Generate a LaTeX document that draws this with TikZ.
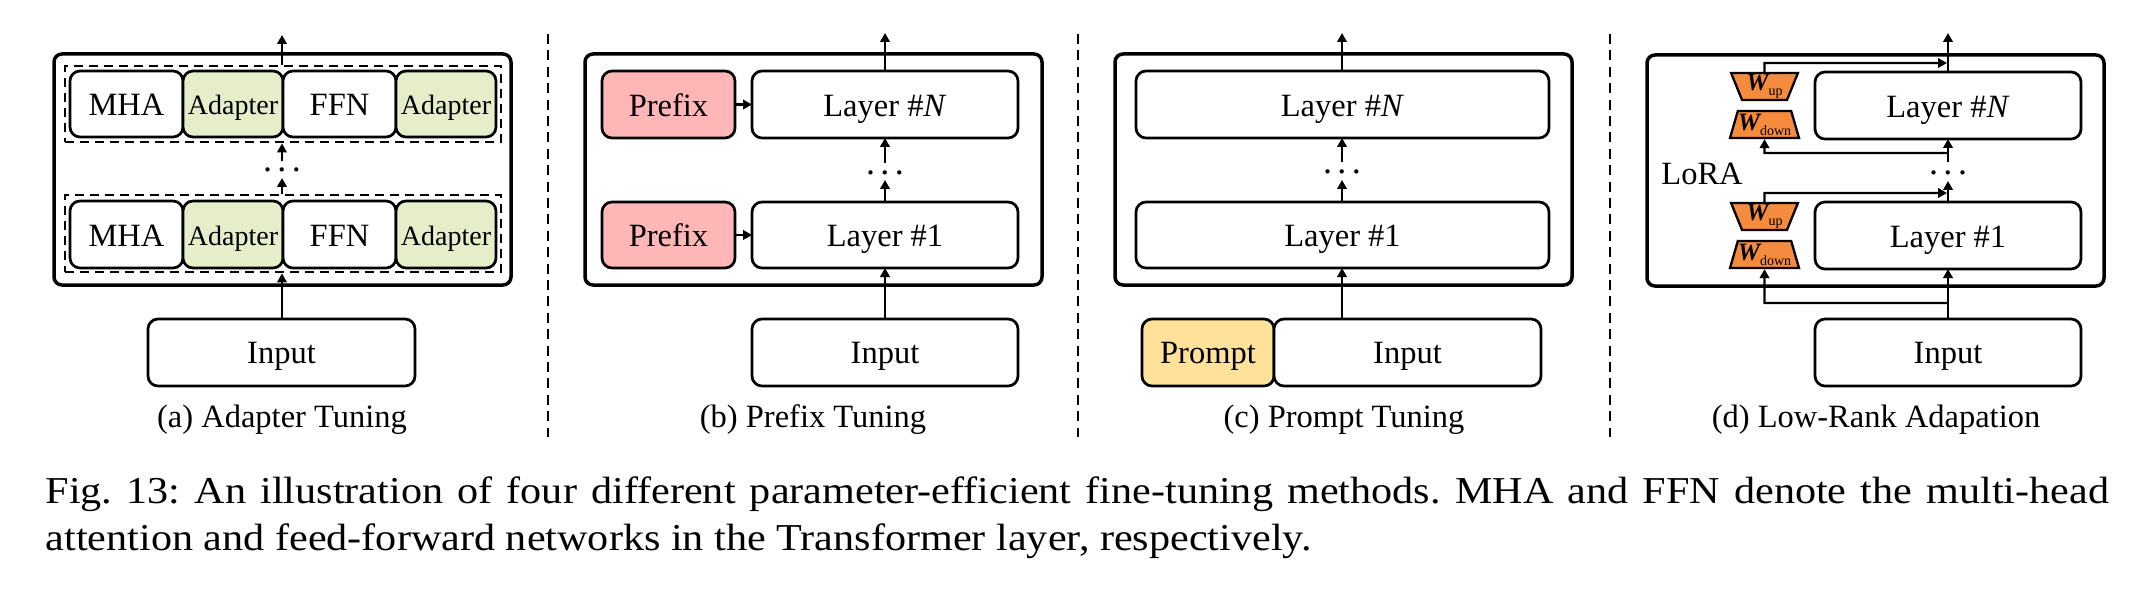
\documentclass[tikz,border=0pt]{standalone}
\usepackage{fontspec}
\setmainfont{Liberation Serif}
\newfontfamily\capfont{Liberation Serif}[FakeStretch=1.11]
\usetikzlibrary{arrows.meta,shapes.geometric}
\definecolor{adaptc}{HTML}{E6EDC9}
\definecolor{prefc}{HTML}{FFB6B6}
\definecolor{promc}{HTML}{FFE199}
\definecolor{wc}{HTML}{F58B3C}
\newcommand{\bx}[7]{%
  \pgfmathsetmacro{\bxw}{#4-#2}\pgfmathsetmacro{\bxh}{#5-#3}%
  \pgfmathsetmacro{\bxcx}{(#4+#2)/2}\pgfmathsetmacro{\bxcy}{(#5+#3)/2}%
  \node[#6,minimum width=\bxw pt,minimum height=\bxh pt] (#1) at (\bxcx,\bxcy) {#7};}
\newcommand{\dotrow}[3]{\node[anchor=base,inner sep=0pt,font=\fontsize{36}{38}\selectfont] (#1) at (#2,#3+2.5) {\makebox[14.5pt]{.}\makebox[14.5pt]{.}\makebox[14.5pt]{.}};}
\newcommand{\wup}{{\fontsize{25}{25}\selectfont\bfseries\itshape W}\raisebox{-5pt}{\fontsize{14}{14}\selectfont up}}
\newcommand{\wdn}{{\fontsize{25}{25}\selectfont\bfseries\itshape W}\raisebox{-5pt}{\fontsize{14}{14}\selectfont down}}
\tikzset{
  basetxt/.style={inner sep=0pt,outer sep=0pt,font=\fontsize{32.5}{38}\selectfont},
  rb/.style={basetxt,draw=black,fill=white,rounded corners=10pt,line width=2.7pt,text height=24pt,text depth=0pt},
  rbin/.style={rb,text height=22pt},
  adapt/.style={rb,fill=adaptc,font=\fontsize{28}{32}\selectfont,text height=22pt},
  pref/.style={rb,fill=prefc},
  prom/.style={rbin,fill=promc},
  outerbox/.style={inner sep=0pt,draw=black,fill=white,rounded corners=8pt,line width=3.5pt},
  dashbox/.style={inner sep=0pt,draw=black,line width=2.8pt,dash pattern=on 9pt off 6pt},
  sepline/.style={draw=black,line width=2.7pt,dash pattern=on 10pt off 6.4pt},
  arr/.style={draw=black,line width=2.3pt,-{Triangle[length=9pt,width=9.5pt]}},
  trap/.style={trapezium,trapezium stretches=true,trapezium left angle=70,trapezium right angle=70,draw=black,fill=wc,line width=2.3pt,inner sep=0pt,minimum width=67pt,minimum height=27pt,font=\fontsize{13}{14}\selectfont},
  subcap/.style={anchor=base,inner sep=0pt,font=\fontsize{32.5}{38}\selectfont},
  bodytxt/.style={anchor=base west,inner sep=0pt,font=\capfont\fontsize{38}{44}\selectfont},
}
\begin{document}
\begin{tikzpicture}[x=1pt,y=-1pt]
\useasboundingbox (0,0) rectangle (2144,596);
\fill[white] (0,0) rectangle (2144,596);
% separators
\coordinate (s1a) at (548,34); \coordinate (s1b) at (548,437);
\coordinate (s2a) at (1078,34); \coordinate (s2b) at (1078,437);
\coordinate (s3a) at (1610,34); \coordinate (s3b) at (1610,437);
\draw[sepline] (s1a) -- (s1b);
\draw[sepline] (s2a) -- (s2b);
\draw[sepline] (s3a) -- (s3b);

% ---------- panel a
\bx{aout}{54}{54}{511}{285}{outerbox}{}
\bx{adN}{65}{66}{501}{142}{dashbox}{}
\bx{ad1}{65}{195}{501}{272}{dashbox}{}
\bx{amN}{70}{71}{183}{137}{rb}{MHA}
\bx{aaN}{183}{71}{283}{137}{adapt}{Adapter}
\bx{afN}{283}{71}{396}{137}{rb}{FFN}
\bx{abN}{396}{71}{496}{137}{adapt}{Adapter}
\bx{am1}{70}{201}{183}{268}{rb}{MHA}
\bx{aa1}{183}{201}{283}{268}{adapt}{Adapter}
\bx{af1}{283}{201}{396}{268}{rb}{FFN}
\bx{ab1}{396}{201}{496}{268}{adapt}{Adapter}
\bx{ainp}{148}{319}{415}{386}{rbin}{Input}
\coordinate (atip) at (282,35);
\dotrow{adots}{282}{169}
\coordinate (aup) at (282,161); \coordinate (alo) at (282,178);
\draw[arr] (adN.north -| atip) -- (atip);
\draw[arr] (aup) -- (adN.south -| aup);
\draw[arr] (ad1.north -| alo) -- (alo);
\draw[arr] (ainp.north -| atip) -- (ad1.south -| atip);
\node[subcap] (acap) at (282,427) {(a) Adapter Tuning};

% ---------- panel b
\bx{bout}{585}{54}{1042}{285}{outerbox}{}
\bx{bpN}{602}{71}{735}{138}{pref}{Prefix}
\bx{bp1}{602}{202}{735}{268}{pref}{Prefix}
\bx{blN}{752}{71}{1018}{138}{rb}{Layer \#\textit{N}}
\bx{bl1}{752}{202}{1018}{268}{rb}{Layer \#1}
\bx{binp}{752}{319}{1018}{386}{rbin}{Input}
\coordinate (btip) at (885,33);
\dotrow{bdots}{885}{172}
\coordinate (bup) at (885,163); \coordinate (blo) at (885,180);
\draw[arr] (blN.north -| btip) -- (btip);
\draw[arr] (bup) -- (blN.south -| bup);
\draw[arr] (bl1.north -| blo) -- (blo);
\draw[arr] (binp.north -| btip) -- (bl1.south -| btip);
\draw[arr] (bpN.east) -- (blN.west);
\draw[arr] (bp1.east) -- (bl1.west);
\node[subcap] (bcap) at (813,427) {(b) Prefix Tuning};

% ---------- panel c
\bx{cout}{1115}{54}{1572}{285}{outerbox}{}
\bx{clN}{1136}{71}{1549}{138}{rb}{Layer \#\textit{N}}
\bx{cl1}{1136}{202}{1549}{268}{rb}{Layer \#1}
\bx{cpr}{1142}{319}{1274}{386}{prom}{Prompt}
\bx{cinp}{1274}{319}{1541}{386}{rbin}{Input}
\coordinate (ctip) at (1342,33);
\dotrow{cdots}{1342}{171}
\coordinate (cup) at (1342,162); \coordinate (clo) at (1342,180);
\draw[arr] (clN.north -| ctip) -- (ctip);
\draw[arr] (cup) -- (clN.south -| cup);
\draw[arr] (cl1.north -| clo) -- (clo);
\draw[arr] (cinp.north -| ctip) -- (cl1.south -| ctip);
\node[subcap] (ccap) at (1344,427) {(c) Prompt Tuning};

% ---------- panel d
\bx{dout}{1647}{55}{2104}{286}{outerbox}{}
\bx{dlN}{1815}{72}{2081}{139}{rb}{Layer \#\textit{N}}
\bx{dl1}{1815}{202}{2081}{269}{rb}{Layer \#1}
\bx{dinp}{1815}{319}{2081}{386}{rbin}{Input}
\node[trap,shape border rotate=180] (duN) at (1764.5,86.5) {\wup};
\node[trap] (ddN) at (1764.5,124.5) {\wdn};
\node[trap,shape border rotate=180] (du1) at (1764.5,216.5) {\wup};
\node[trap] (dd1) at (1764.5,254.5) {\wdn};
\node[subcap] (dlora) at (1702,185) {LoRA};
\coordinate (dtip) at (1948,33);
\dotrow{ddots}{1948}{172}
\coordinate (dup) at (1948,162); \coordinate (dlo) at (1948,181);
\draw[arr] (dlN.north -| dtip) -- (dtip);
\draw[arr] (dup) -- (dlN.south -| dup);
\draw[arr] (dl1.north -| dlo) -- (dlo);
\draw[arr] (dinp.north -| dtip) -- (dl1.south -| dtip);
% LoRA bypass
\coordinate (d1a) at (1764.5,63); \coordinate (d1b) at (1947,63);
\coordinate (d2a) at (1764.5,153); \coordinate (d2b) at (1948,153);
\coordinate (d3a) at (1764.5,193); \coordinate (d3b) at (1947,193);
\coordinate (d4a) at (1764.5,303); \coordinate (d4b) at (1948,303);
\draw[arr] (duN.north) -- (d1a) -- (d1b);
\draw[arr] (d2b) -- (d2a) -- (ddN.south);
\draw[arr] (du1.north) -- (d3a) -- (d3b);
\draw[arr] (d4b) -- (d4a) -- (dd1.south);
\node[subcap] (dcap) at (1876,427) {(d) Low-Rank Adapation};

% ---------- body caption
\node[bodytxt] (line1) at (45.5,503) {\frenchspacing\makebox[2063.5pt][s]{Fig. 13: An illustration of four different parameter-efficient fine-tuning methods. MHA and FFN denote the multi-head}};
\node[bodytxt] (line2) at (45.5,550) {\frenchspacing attention and feed-forward networks in the Transformer layer, respectively.};
\end{tikzpicture}
\end{document}
